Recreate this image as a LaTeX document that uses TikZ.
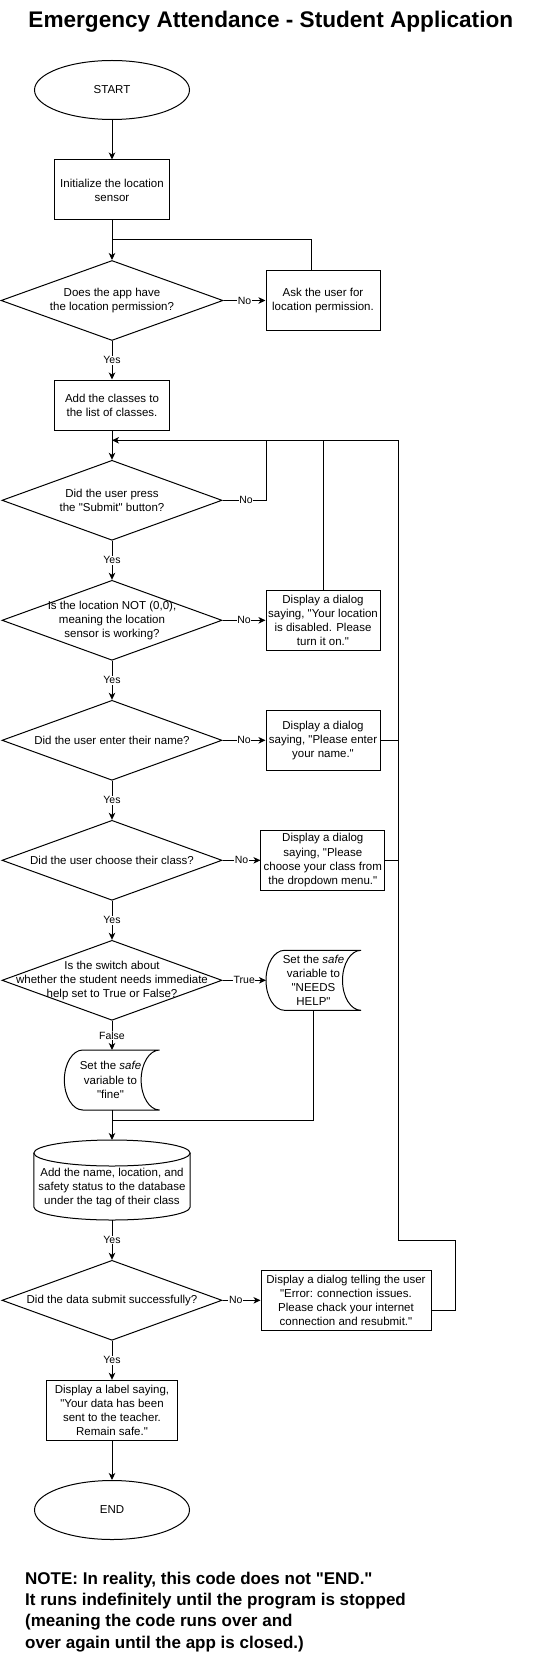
\documentclass[tikz,border=0pt]{standalone}
\usepackage{fontspec}
\setmainfont{Liberation Sans}[Ligatures=TeXOff]
\usetikzlibrary{shapes.geometric,arrows.meta,calc}
\begin{document}
\begin{tikzpicture}[x=1pt,y=1pt,
  bodyfont/.style={font=\fontsize{11.5}{14.2}\selectfont},
  shp/.style={draw=black,line width=1pt},
  proc/.style={shp,bodyfont,rectangle,align=center,inner sep=0pt},
  term/.style={shp,font=\fontsize{11.5}{14}\selectfont,ellipse,inner sep=0pt,minimum width=155pt,minimum height=59pt},
  dec/.style={shp,diamond,inner sep=0pt,minimum width=220pt,minimum height=80pt},
  txt/.style={bodyfont,align=center,inner sep=0pt},
  ghost/.style={rectangle,inner sep=0pt,outer sep=0pt,bodyfont,align=center},
  ln/.style={line width=1pt,draw=black},
  arr/.style={ln,-{Stealth[length=7pt,width=6.5pt,inset=2pt]}},
  lbl/.style={font=\fontsize{10.5}{12}\selectfont,fill=white,inner sep=0.6pt}
]
\useasboundingbox[fill=white] (0,0) rectangle (551,-1661);

% title
\node[font=\bfseries\fontsize{22.6}{27}\selectfont,anchor=base] (title) at (270.8,-27.3) {Emergency Attendance - Student Application};

% main column
\node[term] (start) at (112,-90) {START};
\node[proc,minimum width=115pt,minimum height=60pt] (init) at (112,-190) {Initialize the location\\sensor};
\node[dec,minimum width=222pt] (d1) at (112,-300.5) {};
\node[txt] (d1t) at (112,-300.5) {Does the app have\\the location permission?};
\node[proc,minimum width=114pt,minimum height=60pt] (ask) at (323,-300.5) {Ask the user for\\location permission.};
\node[proc,minimum width=115pt,minimum height=50pt] (add) at (112,-405) {Add the classes to\\the list of classes.};

\node[dec] (d2) at (112,-500.3) {};
\node[txt] (d2t) at (112,-500.3) {Did the user press\\the "Submit" button?};

\node[dec] (d3) at (112,-620.3) {};
\node[txt] (d3t) at (112,-620.3) {Is the location NOT (0,0),\\meaning the location\\sensor is working?};
\node[proc,minimum width=114pt,minimum height=60pt] (dlg1) at (323,-620.3) {Display a dialog\\saying, "Your location\\is disabled. Please\\turn it on."};

\node[dec] (d4) at (112,-740.3) {};
\node[txt] (d4t) at (112,-740.3) {Did the user enter their name?};
\node[proc,minimum width=114pt,minimum height=60pt] (dlg2) at (323,-740.3) {Display a dialog\\saying, "Please enter\\your name."};

\node[dec] (d5) at (112,-860.3) {};
\node[txt] (d5t) at (112,-860.3) {Did the user choose their class?};
\node[proc,minimum width=123.7pt,minimum height=60pt] (dlg3) at (322.8,-860.3) {Display a dialog\\saying, "Please\\choose your class from\\the dropdown menu."};

\node[dec] (d6) at (112,-980.3) {};
\node[txt] (d6t) at (112,-980.3) {Is the switch about\\whether the student needs immediate\\help set to True or False?};

% stored data shapes
\node[ghost,minimum width=95pt,minimum height=60pt] (sd1) at (313.5,-980.3) {Set the \textit{safe}\\variable to\\"NEEDS\\HELP"};
\draw[shp] ([xshift=18.5pt]sd1.north west) -- (sd1.north east)
  arc[start angle=90,end angle=270,x radius=18.5pt,y radius=30pt]
  -- ([xshift=18.5pt]sd1.south west)
  arc[start angle=270,end angle=90,x radius=18.5pt,y radius=30pt] -- cycle;

\node[ghost,minimum width=95.3pt,minimum height=60pt] (sd2) at (112,-1080) {};
\node[txt] (sd2t) at (110.5,-1080) {Set the \textit{safe}\\variable to\\"fine"};
\draw[shp] ([xshift=18.5pt]sd2.north west) -- (sd2.north east)
  arc[start angle=90,end angle=270,x radius=18.5pt,y radius=30pt]
  -- ([xshift=18.5pt]sd2.south west)
  arc[start angle=270,end angle=90,x radius=18.5pt,y radius=30pt] -- cycle;

% database cylinder
\node[ghost,minimum width=156.3pt,minimum height=80pt] (db) at (112,-1180) {};
\node[txt] (dbt) at (112,-1187.3) {Add the name, location, and\\safety status to the database\\under the tag of their class};
\draw[shp] ([yshift=-13pt]db.north) ellipse [x radius=78.15pt,y radius=13pt];
\draw[shp] ([yshift=-13pt]db.north west) -- ([yshift=13pt]db.south west)
  arc[start angle=180,end angle=360,x radius=78.15pt,y radius=13pt]
  -- ([yshift=-13pt]db.north east);

\node[dec] (d7) at (112,-1300.3) {};
\node[txt] (d7t) at (112,-1300.3) {Did the data submit successfully?};
\node[proc,minimum width=170pt,minimum height=60pt] (err) at (346,-1300.3) {Display a dialog telling the user\\"Error: connection issues.\\Please chack your internet\\connection and resubmit."};

\node[proc,minimum width=130.7pt,minimum height=60pt] (done) at (112,-1410.3) {Display a label saying,\\"Your data has been\\sent to the teacher.\\Remain safe."};
\node[term] (end) at (112,-1510) {END};

% note (base anchor = baseline of last line)
\node[font=\bfseries\fontsize{17}{21.4}\selectfont,align=left,anchor=base west,inner sep=0pt] (note) at (25,-1648.3) {NOTE: In reality, this code does not "END."\\It runs indefinitely until the program is stopped\\(meaning the code runs over and\\over again until the app is closed.)};

% junction coordinates
\coordinate (j1) at (112,-240);
\coordinate (j2) at (112,-440.3);
\coordinate (k1) at (266,-440.3);
\coordinate (r0) at (398.7,-440.3);
\coordinate (r1) at (455.7,-1240.3);
\coordinate (r2) at (398.7,-1240.3);
\coordinate (j3) at (112,-1120);

% connectors
\draw[arr] (start) -- (init);
\draw[arr] (init) -- (d1);
\draw[ln] ([xshift=-11.7pt]ask.north) |- (j1);
\draw[arr] (d1) -- node[lbl]{No} (ask);
\draw[arr] (d1) -- node[lbl]{Yes} (add);
\draw[arr] (add) -- (d2);

\draw[ln] (d2.east) -| node[lbl,pos=0.27]{No} (k1);
\draw[ln] (dlg1.north) -- (dlg1.north |- j2);
\draw[arr] ([yshift=-9.7pt]err.east) -| (r1) -- (r2) -- (r0) -- (j2);
\draw[ln] (dlg2.east) -- (dlg2.east -| r0);
\draw[ln] (dlg3.east) -- (dlg3.east -| r0);

\draw[arr] (d2) -- node[lbl]{Yes} (d3);
\draw[arr] (d3) -- node[lbl]{No} (dlg1);
\draw[arr] (d3) -- node[lbl]{Yes} (d4);
\draw[arr] (d4) -- node[lbl]{No} (dlg2);
\draw[arr] (d4) -- node[lbl]{Yes} (d5);
\draw[arr] (d5) -- node[lbl]{No} (dlg3);
\draw[arr] (d5) -- node[lbl]{Yes} (d6);
\draw[arr] (d6) -- node[lbl]{True} (sd1);
\draw[arr] (d6) -- node[lbl]{False} (sd2);
\draw[arr] (sd2) -- (db);
\draw[ln] (sd1.south) |- (j3);
\draw[arr] (db) -- node[lbl]{Yes} (d7);
\draw[arr] (d7) -- node[lbl,pos=0.35]{No} (err);
\draw[arr] (d7) -- node[lbl]{Yes} (done);
\draw[arr] (done) -- (end);
\end{tikzpicture}
\end{document}
